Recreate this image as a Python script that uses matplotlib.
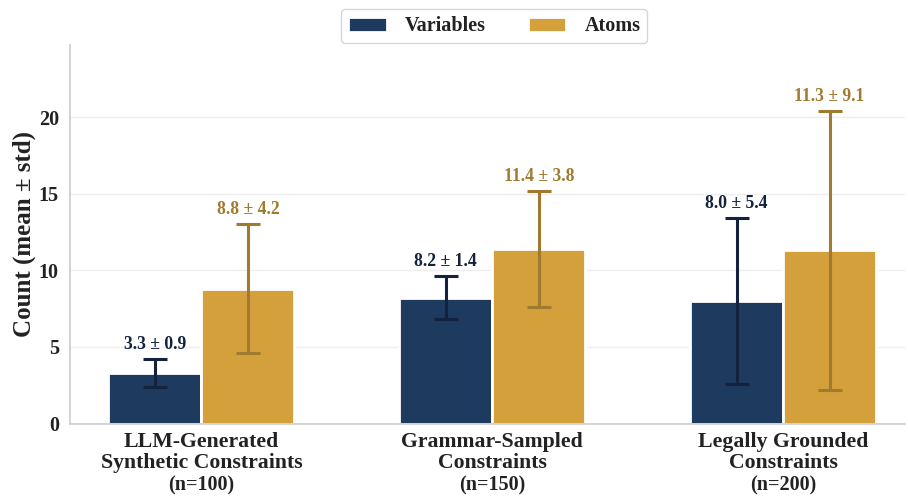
import matplotlib
matplotlib.use("Agg")
import matplotlib.pyplot as plt
import numpy as np
from matplotlib.transforms import blended_transform_factory

plt.rcParams['font.family'] = ['Liberation Serif', 'DejaVu Serif']

categories = ["LLM-Generated\nSynthetic Constraints", "Grammar-Sampled\nConstraints", "Legally Grounded\nConstraints"]
n_labels = ["(n=100)", "(n=150)", "(n=200)"]
var_mean = [3.3, 8.2, 8.0]
var_std = [0.9, 1.4, 5.4]
atom_mean = [8.8, 11.4, 11.3]
atom_std = [4.2, 3.8, 9.1]
series_names = ["Variables", "Atoms"]

bar_colors = ["#1f3a5f", "#d4a03c"]
err_colors = ["#13233d", "#a07a2e"]

fig = plt.figure(figsize=(9.08, 4.96), dpi=100)
ax = fig.add_axes([0.077, 0.146, 0.92, 0.763])

x = np.arange(len(categories))
w = 0.32
for i, (means, stds) in enumerate([(var_mean, var_std), (atom_mean, atom_std)]):
    off = (i - 0.5) * w
    ax.bar(x + off, means, width=w, color=bar_colors[i], edgecolor="white",
           linewidth=2, label=series_names[i], zorder=2)
    ax.errorbar(x + off, means, yerr=stds, fmt="none", ecolor=err_colors[i],
                elinewidth=2.2, capsize=8.5, capthick=2.2, zorder=3)
    for xi, m, s in zip(x + off, means, stds):
        ax.text(xi, m + s + 0.4, f"{m:.1f} ± {s:.1f}", ha="center", va="bottom",
                fontsize=12.7, fontweight="bold", color=err_colors[i], zorder=4)

ax.set_xlim(-0.452, 2.42)
ax.set_ylim(0, 24.7)
ax.set_yticks([0, 5, 10, 15, 20])
ax.set_xticks(x)
ax.set_xticklabels(categories, fontsize=15.7, fontweight="bold", color="#222222",
                   linespacing=1.05)
ax.tick_params(axis="x", length=0, pad=6)
ax.tick_params(axis="y", length=0, labelsize=14.5, pad=8)
for lab in ax.get_yticklabels():
    lab.set_fontweight("bold")
    lab.set_color("#222222")

trans = blended_transform_factory(ax.transData, ax.transAxes)
for xi, nl in zip(x, n_labels):
    ax.text(xi, -0.1625, nl, transform=trans, ha="center", va="center",
            fontsize=14.5, fontweight="bold", color="#222222")

ax.set_ylabel("Count (mean ± std)", fontsize=18, fontweight="bold", color="#222222",
              labelpad=1.8)

ax.grid(axis="y", color="#eeeeee", linewidth=1, zorder=0)
ax.set_axisbelow(True)
for side in ["top", "right"]:
    ax.spines[side].set_visible(False)
for side in ["left", "bottom"]:
    ax.spines[side].set_color("#cccccc")
    ax.spines[side].set_linewidth(1.2)

leg = ax.legend(loc="lower center", bbox_to_anchor=(0.508, 1.005), ncol=2,
                frameon=True, fancybox=True, prop={"weight": "bold", "size": 14.5},
                handlelength=1.9, handleheight=0.75, columnspacing=2.1, handletextpad=0.9,
                borderpad=0.35, borderaxespad=0)
leg.get_frame().set_edgecolor("#cccccc")
for t in leg.get_texts():
    t.set_color("#222222")

fig.savefig("out.png", dpi=100)
